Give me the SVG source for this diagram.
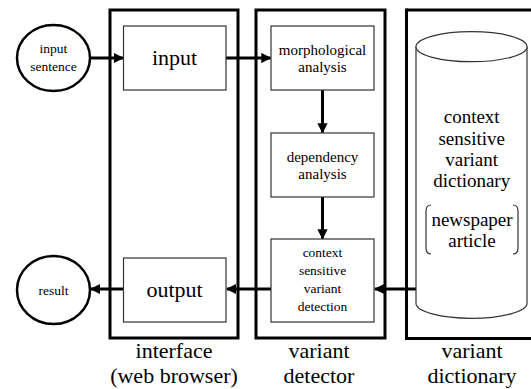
<svg xmlns="http://www.w3.org/2000/svg" width="531" height="389" viewBox="0 0 531 389">
  <style>
    .frame { fill: none; stroke: #000; stroke-width: 3; }
    .box { fill: #fff; stroke: #333; stroke-width: 1.2; }
    .oval { fill: #fff; stroke: #000; stroke-width: 2.5; }
    .drum { fill: #fff; stroke: #333; stroke-width: 1.2; }
    .link { fill: none; stroke: #000; stroke-width: 3; marker-end: url(#head); }
    text { fill: #000; text-anchor: middle; font-family: "Liberation Serif", "Times New Roman", serif; }
    .s13 { font-size: 13.5px; }
    .s14 { font-size: 15px; }
    .s19 { font-size: 19px; }
    .s22 { font-size: 22px; }
  </style>
  <defs>
    <marker id="head" viewBox="0 0 10 10" refX="9" refY="5" markerWidth="3.4" markerHeight="3.4" orient="auto" markerUnits="strokeWidth">
      <path d="M0,0 L10,5 L0,10 Z" fill="#000"/>
    </marker>
  </defs>

  <!-- column frames -->
  <g id="interface">
    <rect class="frame" x="110" y="10" width="128" height="328"/>
    <text class="s22" x="174" y="358">interface</text>
    <text class="s22" x="174" y="383">(web browser)</text>
  </g>
  <g id="detector">
    <rect class="frame" x="256" y="10" width="129" height="328"/>
    <text class="s22" x="319" y="358">variant</text>
    <text class="s22" x="319" y="383">detector</text>
  </g>
  <g id="dictionary">
    <!-- right side runs off the canvas, so only three sides are drawn -->
    <line class="frame" x1="406.5" y1="10" x2="531" y2="10"/>
    <line class="frame" x1="406.5" y1="8.5" x2="406.5" y2="340"/>
    <line class="frame" x1="406.5" y1="338.5" x2="531" y2="338.5"/>
    <text class="s22" x="472" y="358">variant</text>
    <text class="s22" x="472" y="383">dictionary</text>
  </g>

  <!-- connectors -->
  <g id="connectors">
    <line class="link" x1="90" y1="58" x2="123" y2="58"/>
    <line class="link" x1="226" y1="58" x2="270.5" y2="58"/>
    <line class="link" x1="322.5" y1="90" x2="322.5" y2="132.5"/>
    <line class="link" x1="322.5" y1="197" x2="322.5" y2="238.5"/>
    <line class="link" x1="416" y1="289" x2="375" y2="289"/>
    <line class="link" x1="271" y1="289" x2="227" y2="289"/>
    <line class="link" x1="123.5" y1="289" x2="91" y2="289"/>
  </g>

  <g id="input-sentence">
    <ellipse class="oval" cx="53.5" cy="58" rx="36.5" ry="33"/>
    <text class="s13" x="53.5" y="52.5">input</text>
    <text class="s13" x="53.5" y="70.5">sentence</text>
  </g>
  <g id="input">
    <rect class="box" x="123.5" y="26" width="102.5" height="64"/>
    <text class="s22" x="174.5" y="65">input</text>
  </g>
  <g id="morphological-analysis">
    <rect class="box" x="271" y="26" width="103" height="64"/>
    <text class="s14" x="322.5" y="55">morphological</text>
    <text class="s14" x="322.5" y="72">analysis</text>
  </g>
  <g id="dependency-analysis">
    <rect class="box" x="271" y="133" width="103" height="64"/>
    <text class="s14" x="322.5" y="162">dependency</text>
    <text class="s14" x="322.5" y="179">analysis</text>
  </g>
  <g id="variant-detection">
    <rect class="box" x="271" y="239" width="103" height="83"/>
    <text class="s13" x="322.5" y="256.5">context</text>
    <text class="s13" x="322.5" y="274.5">sensitive</text>
    <text class="s13" x="322.5" y="292.5">variant</text>
    <text class="s13" x="322.5" y="310.5">detection</text>
  </g>
  <g id="output">
    <rect class="box" x="123.5" y="258" width="102.5" height="64"/>
    <text class="s22" x="174.5" y="297">output</text>
  </g>
  <g id="result">
    <ellipse class="oval" cx="53.5" cy="290" rx="36.5" ry="34"/>
    <text class="s13" x="53.5" y="294.5">result</text>
  </g>

  <g id="variant-dictionary-store">
    <path class="drum" d="M416,46.7 V303.3 A55.5,15 0 0 0 527,303.3 V46.7"/>
    <ellipse class="drum" cx="471.5" cy="46.7" rx="55.5" ry="15"/>
    <text class="s19" x="471.7" y="123">context</text>
    <text class="s19" x="471.7" y="145">sensitive</text>
    <text class="s19" x="471.7" y="166">variant</text>
    <text class="s19" x="471.7" y="187">dictionary</text>
    <path class="drum" d="M431,205 Q426,205 426,211 V248 Q426,254 431,254"/>
    <path class="drum" d="M513,205 Q518,205 518,211 V248 Q518,254 513,254"/>
    <text class="s19" x="472" y="226">newspaper</text>
    <text class="s19" x="472" y="247">article</text>
  </g>
</svg>
